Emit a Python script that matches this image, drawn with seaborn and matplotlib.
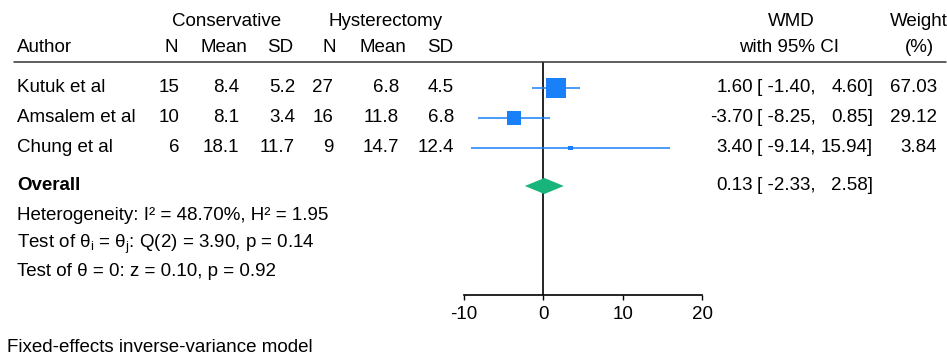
import matplotlib
matplotlib.use("Agg")
import matplotlib.pyplot as plt
import numpy as np
import pandas as pd
import seaborn as sns

# ---- study data -------------------------------------------------------------
authors = ["Kutuk et al", "Amsalem et al", "Chung et al"]
n_cons = [15, 10, 6]
mean_cons = [8.4, 8.1, 18.1]
sd_cons = [5.2, 3.4, 11.7]
n_hyst = [27, 16, 9]
mean_hyst = [6.8, 11.8, 14.7]
sd_hyst = [4.5, 6.8, 12.4]
wmd = [1.60, -3.70, 3.40]
ci_low = [-1.40, -8.25, -9.14]
ci_high = [4.60, 0.85, 15.94]
weight = [67.03, 29.12, 3.84]

overall_wmd = 0.13
overall_low = -2.33
overall_high = 2.58

stat_lines = [
    "Heterogeneity: I² = 48.70%, H² = 1.95",
    r"Test of θ$_\mathregular{i}$ = θ$_\mathregular{j}$: Q(2) = 3.90, p = 0.14",
    "Test of θ = 0: z = 0.10, p = 0.92",
]
footnote = "Fixed-effects inverse-variance model"
x_ticks = [-10, 0, 10, 20]

# ---- style ------------------------------------------------------------------
sns.set_theme(style="white")
plt.rcParams["font.family"] = ["Liberation Sans", "DejaVu Sans"]
plt.rcParams["mathtext.fontset"] = "custom"
plt.rcParams["mathtext.rm"] = "Liberation Sans"
plt.rcParams["mathtext.it"] = "Liberation Sans:italic"
FS = 13.5
BLUE = "#1a80fa"
GREEN = "#17b57c"

W, H = 947, 359
fig = plt.figure(figsize=(W / 100, H / 100), dpi=100)
fig.patch.set_facecolor("white")

# layout (pixel rows / columns)
rule_y = 62
axis_y = 295
row_y = [88, 118, 148]
overall_y = 186
stat_y = [216, 244, 272]
x_left, x_right = 464, 702  # pixel span of -10 .. 20

# ---- forest panel -----------------------------------------------------------
ax = fig.add_axes([x_left / W, (H - axis_y) / H,
                   (x_right - x_left) / W, (axis_y - rule_y) / H])
ax.set_xlim(x_ticks[0], x_ticks[-1])
ax.set_ylim(axis_y, rule_y)
ax.set_facecolor("none")

ax.axvline(0, color="black", lw=1.2, zorder=1)
ax.hlines(row_y, ci_low, ci_high, color=BLUE, lw=1.1, zorder=2)

df = pd.DataFrame({"wmd": wmd, "row": row_y, "weight": weight})
max_side_pt = 20 * 0.72
sns.scatterplot(data=df, x="wmd", y="row", size="weight",
                sizes=(0, max_side_pt ** 2), size_norm=(0, max(weight)),
                marker="s", color=BLUE, linewidth=0, legend=False,
                ax=ax, zorder=3)

half_h = 8
ax.fill([overall_low, overall_wmd, overall_high, overall_wmd],
        [overall_y, overall_y - half_h, overall_y, overall_y + half_h],
        color=GREEN, lw=0, zorder=3)

for s in ["top", "right", "left"]:
    ax.spines[s].set_visible(False)
ax.spines["bottom"].set_color("black")
ax.spines["bottom"].set_linewidth(1.2)
ax.set_xticks(x_ticks)
ax.set_xticklabels([str(t) for t in x_ticks])
ax.set_yticks([])
ax.tick_params(axis="x", direction="out", length=3.5, width=1.0,
               color="black", labelcolor="black", labelsize=FS, pad=4.5,
               bottom=True)
ax.set_xlabel("")
ax.set_ylabel("")

# ---- text table -------------------------------------------------------------
tab = fig.add_axes([0, 0, 1, 1])
tab.set_xlim(0, W)
tab.set_ylim(H, 0)
tab.axis("off")
tab.patch.set_alpha(0)


def put(x, y, s, ha="left", **kw):
    tab.text(x, y, s, ha=ha, va="center", fontsize=FS, color="black", **kw)


# headers
put(227, 22, "Conservative", ha="center")
put(386, 22, "Hysterectomy", ha="center")
put(17, 47, "Author")
for xc, lab in zip([171, 224, 280, 329, 383, 440],
                   ["N", "Mean", "SD", "N", "Mean", "SD"]):
    put(xc, 47, lab, ha="center")
put(791, 22, "WMD", ha="center")
put(789, 47, "with 95% CI", ha="center")
put(919, 22, "Weight", ha="center")
put(919, 47, "(%)", ha="center")
tab.plot([14, 946], [rule_y, rule_y], color="#333333", lw=1.1)

# study rows
for i, y in enumerate(row_y):
    put(17, y, authors[i])
    put(179, y, f"{n_cons[i]}", ha="right")
    put(239, y, f"{mean_cons[i]:.1f}", ha="right")
    put(295, y, f"{sd_cons[i]:.1f}", ha="right")
    put(333, y, f"{n_hyst[i]}", ha="right")
    put(399, y, f"{mean_hyst[i]:.1f}", ha="right")
    put(454, y, f"{sd_hyst[i]:.1f}", ha="right")
    put(753, y, f"{wmd[i]:.2f}", ha="right")
    put(757, y, f"[ {ci_low[i]:.2f},")
    put(873, y, f"{ci_high[i]:.2f}]", ha="right")
    put(937, y, f"{weight[i]:.2f}", ha="right")

# overall row
put(17, overall_y, "Overall", fontweight="bold")
put(753, overall_y, f"{overall_wmd:.2f}", ha="right")
put(757, overall_y, f"[ {overall_low:.2f},")
put(873, overall_y, f"{overall_high:.2f}]", ha="right")

for y, s in zip(stat_y, stat_lines):
    put(17, y, s)

put(7, 348, footnote)

fig.savefig("out.png", dpi=100, facecolor="white")
